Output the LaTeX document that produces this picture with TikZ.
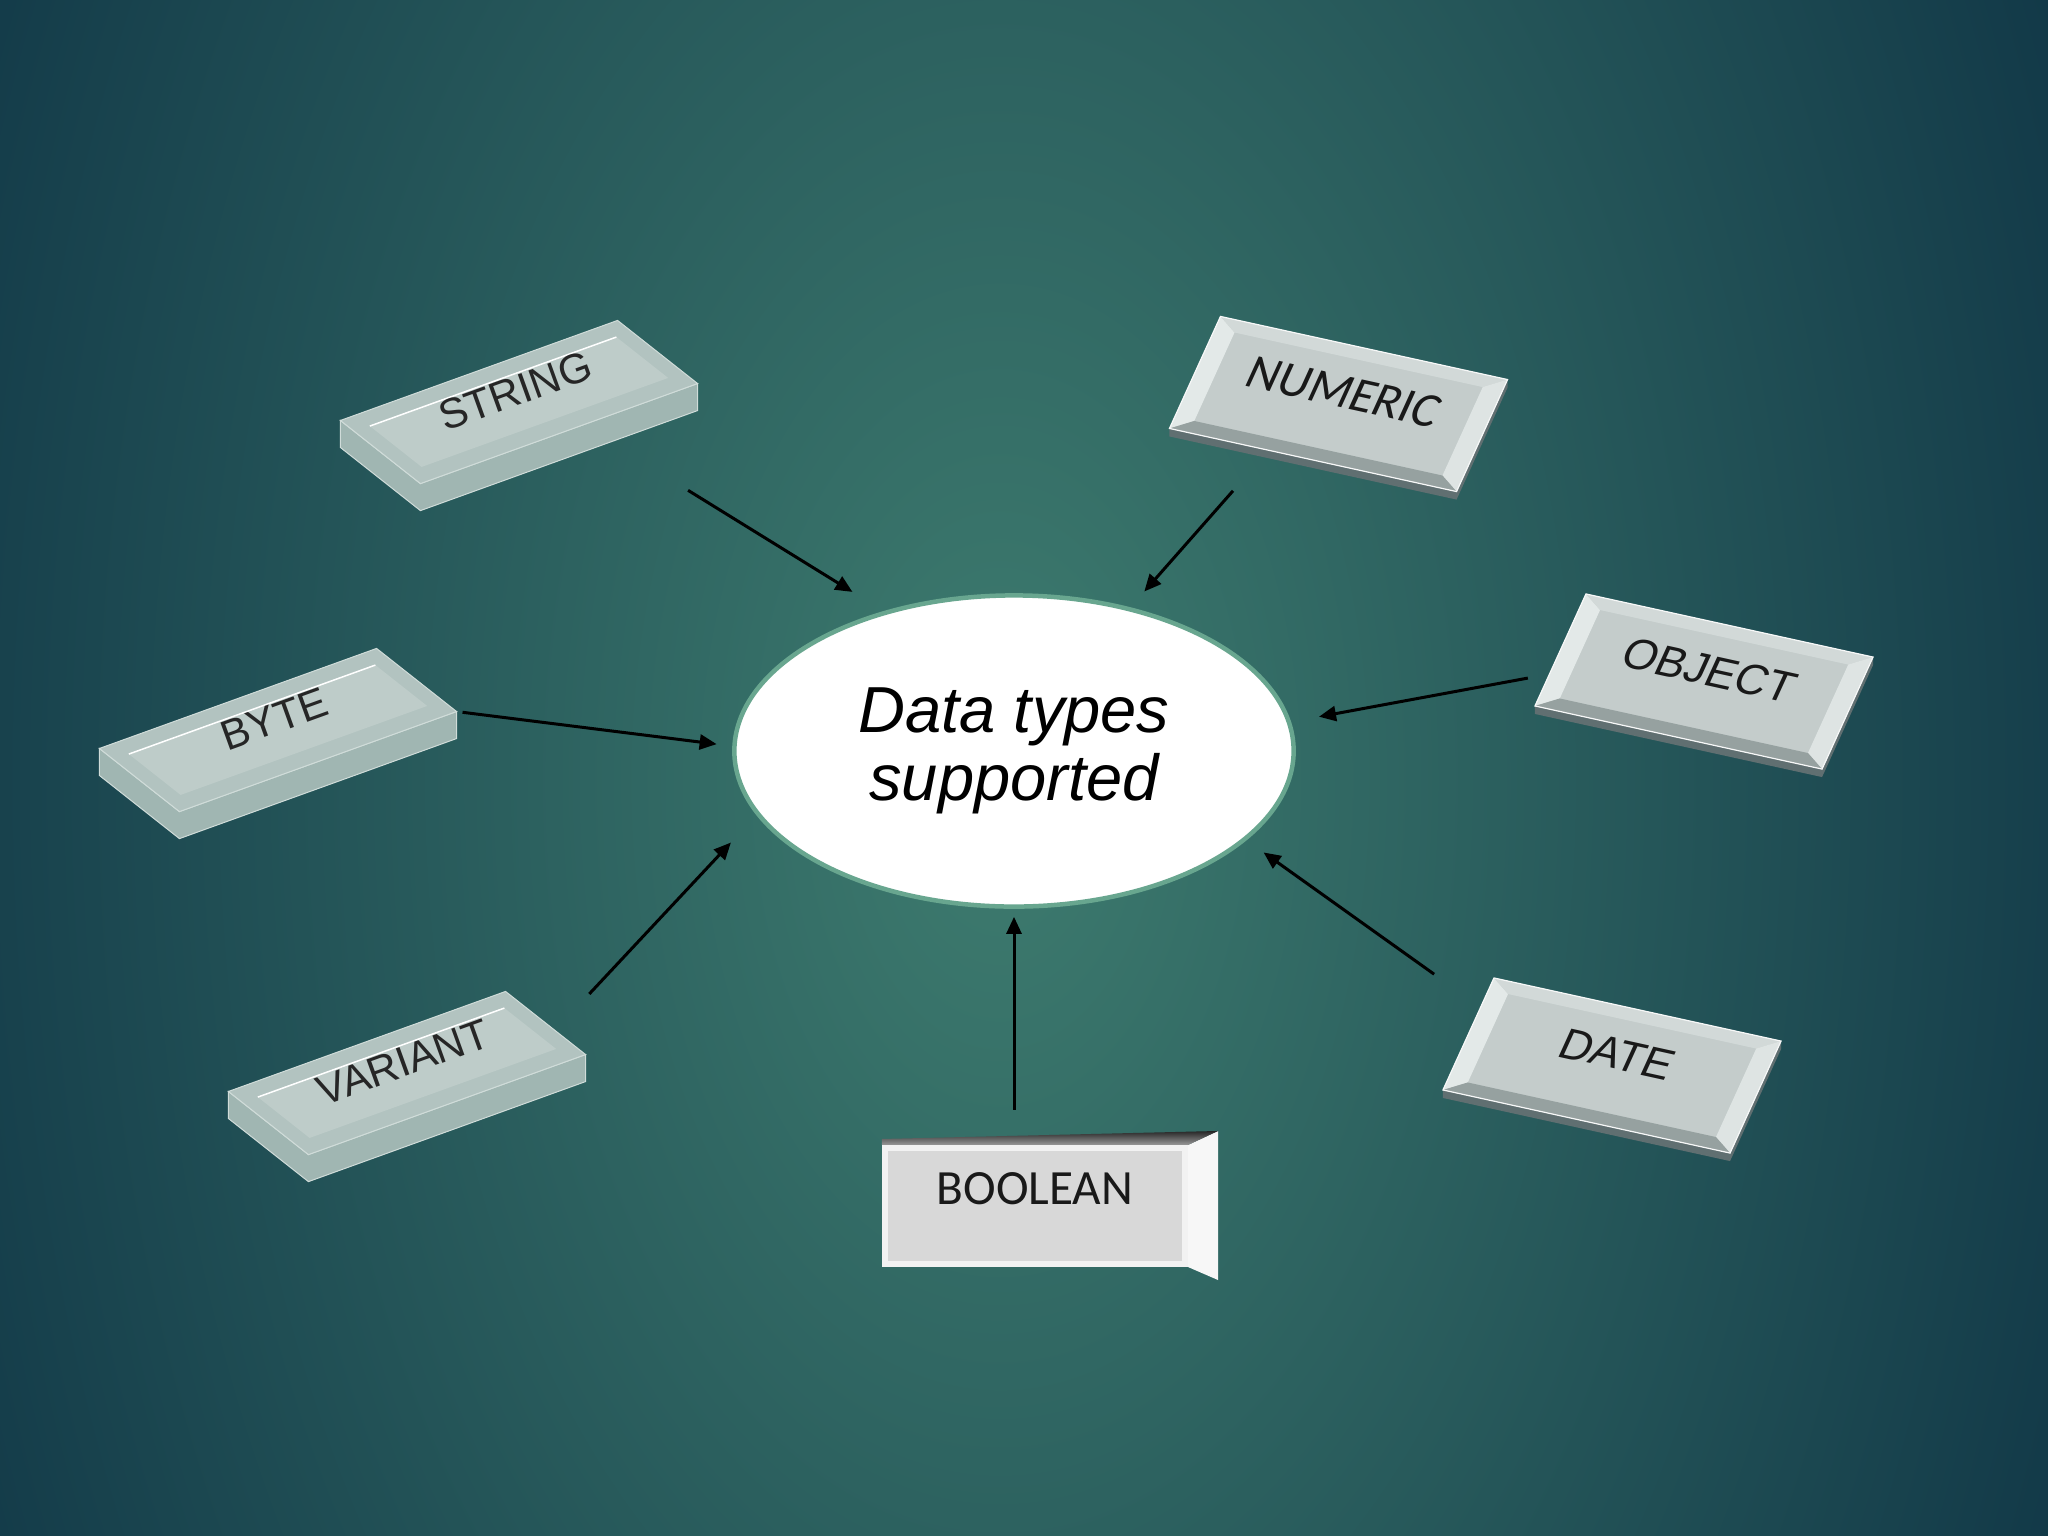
\documentclass[tikz,border=0pt]{standalone}
\usepackage{fontspec}
\setmainfont{Liberation Sans}
\newfontfamily\calibri{Carlito}
\usetikzlibrary{arrows.meta, shapes, positioning}

\definecolor{bgin}{RGB}{62,124,111}
\definecolor{bgout}{RGB}{18,57,72}
\definecolor{ringedge}{RGB}{104,166,143}
\definecolor{glasstop}{RGB}{178,195,192}
\definecolor{glassin}{RGB}{190,204,201}
\definecolor{glassedge}{RGB}{208,220,217}
\definecolor{glassside}{RGB}{160,182,178}
\definecolor{platerim}{RGB}{200,208,207}
\definecolor{platein}{RGB}{196,204,203}
\definecolor{platelight}{RGB}{227,233,232}
\definecolor{platetop}{RGB}{210,217,216}
\definecolor{platedark}{RGB}{150,161,160}
\definecolor{plateside}{RGB}{96,111,113}
\definecolor{boolpanel}{RGB}{216,216,216}

\pgfdeclarelayer{back}
\pgfsetlayers{back,main}

% glass plate: name, position, label
\newcommand{\glassplate}[3]{%
	\node[glass] (#1) at (#2) {};
	\node[glass inner] (#1 in) at (#1) {};
	\draw[white, line width=0.015cm] (#1 in.north west) -- (#1 in.north east);
	\node[glass text, yshift=0.115cm] (#1 text) at (#1) {#3};
	\begin{pgfonlayer}{back}
		\fill[glass side] (#1.north west) -- (#1.south west) -- (#1.south east)
			-- ([yshift=-0.27cm]#1.south east) -- ([yshift=-0.27cm]#1.south west)
			-- ([yshift=-0.27cm]#1.north west) -- cycle;
	\end{pgfonlayer}
}

% bevelled grey plate: name, position, label
\newcommand{\grayplate}[3]{%
	\node[plate] (#1) at (#2) {};
	\node[plate inner] (#1 in) at (#1) {#3};
	\fill[platelight] (#1.north west) -- (#1.south west) -- (#1 in.south west) -- (#1 in.north west) -- cycle;
	\fill[platetop] (#1.north west) -- (#1.north east) -- (#1 in.north east) -- (#1 in.north west) -- cycle;
	\fill[platelight!80!platerim] (#1.north east) -- (#1.south east) -- (#1 in.south east) -- (#1 in.north east) -- cycle;
	\fill[platedark] (#1.south west) -- (#1.south east) -- (#1 in.south east) -- (#1 in.south west) -- cycle;
	\draw[white!85!platerim, line width=0.012cm] (#1.north west) -- (#1.north east) -- (#1.south east) -- (#1.south west) -- cycle;
	\begin{pgfonlayer}{back}
		\fill[plateside] (#1.north east) -- (#1.south east) -- (#1.south west)
			-- ([yshift=-0.08cm]#1.south west) -- ([yshift=-0.08cm]#1.south east)
			-- ([yshift=-0.08cm]#1.north east) -- cycle;
	\end{pgfonlayer}
}

\begin{document}
\begin{tikzpicture}[>={Triangle[length=0.17cm,width=0.15cm]}, x=0.01cm, y=-0.01cm]
	\tikzstyle{hub} = [ellipse, draw=ringedge, line width=0.045cm, fill=white, minimum width=5.59cm, minimum height=3.11cm, inner sep=0, align=center, font=\itshape\fontsize{18.5}{19.3}\selectfont]
	\tikzstyle{glass} = [rotate=19.85, xslant=-0.622, minimum width=2.945cm, minimum height=0.865cm, inner sep=0, outer sep=0, fill=glasstop, draw=glassedge, line width=0.01cm]
	\tikzstyle{glass inner} = [rotate=19.85, xslant=-0.622, minimum width=2.62cm, minimum height=0.56cm, inner sep=0, outer sep=0, fill=glassin]
	\tikzstyle{glass text} = [rotate=19.85, font=\fontsize{12}{12}\selectfont, text=black!85]
	\tikzstyle{glass side} = [fill=glassside, draw=glassedge, line width=0.01cm]
	\tikzstyle{plate} = [rotate=-12.4, xslant=0.214, minimum width=2.938cm, minimum height=1.203cm, inner sep=0, outer sep=0, fill=platerim]
	\tikzstyle{plate inner} = [rotate=-12.4, xslant=0.214, minimum width=2.54cm, minimum height=0.95cm, inner sep=0, outer sep=0, fill=platein, text=black!90, font=\fontsize{12.5}{12.5}\selectfont, text height=0.32cm, text depth=0.26cm]
	\tikzstyle{bool} = [minimum width=3.0cm, minimum height=1.16cm, inner sep=0, fill=boolpanel, draw=white!95!black, line width=0.06cm, text=black!90, font=\calibri\fontsize{14}{14}\selectfont, text height=0.32cm, text depth=0.36cm]
	\tikzstyle{link} = [->, line width=0.03cm, black]

	\useasboundingbox (0,0) rectangle (2048,1536);
	\begin{pgfonlayer}{back}
		\begin{scope}
			\clip (0,0) rectangle (2048,1536);
			\shade[inner color=bgin, outer color=bgout] (1000,780) ellipse (11.5cm and 19cm);
		\end{scope}
	\end{pgfonlayer}

	\node[hub] (types) at (1014,751) {Data types\\supported};

	\glassplate{string}{519,402}{STRING}
	\glassplate{byte}{278,730}{BYTE}
	\glassplate{variant}{407,1073}{VARIANT}

	\grayplate{numeric}{1338.5,404}{{\calibri\fontsize{14}{14}\selectfont NUMERIC}}
	\grayplate{object}{1704,681.5}{OBJECT}
	\grayplate{date}{1612,1065.5}{DATE}

	\node[bool] (boolean) at (1035,1206) {BOOLEAN};
	\fill[white!97!black] (boolean.north east) -- ++(30,-14) -- ([shift={(0.3cm,-0.13cm)}]boolean.south east) -- (boolean.south east) -- cycle;
	\shade[top color=black!85, bottom color=black!40] (boolean.north west) -- (boolean.north east) -- ++(30,-14) -- ([yshift=0.06cm]boolean.north west) -- cycle;

	\path (string.-60) edge [link, shorten <=1.24cm, shorten >=0.365cm] (types.133)
	      (numeric.233) edge [link, shorten <=0.54cm, shorten >=0.21cm] (types.51)
	      (byte.south east) edge [link, shorten <=0.06cm, shorten >=0.157cm] (types.179)
	      (object.190) edge [link, shorten <=0.22cm, shorten >=0.284cm] (types.6)
	      (variant.-4) edge [link, shorten <=0.50cm, shorten >=0.374cm] (types.194)
	      (date.169) edge [link, shorten <=0.57cm, shorten >=0.21cm] (types.339)
	      (types.south |- boolean.north) edge [link, shorten <=0.35cm, shorten >=0.08cm] (types.south);
\end{tikzpicture}
\end{document}
